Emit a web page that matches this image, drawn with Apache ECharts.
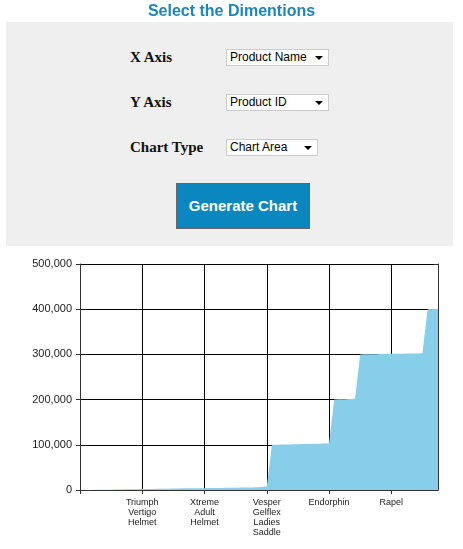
<!DOCTYPE html>
<html>
<head>
<meta charset="utf-8">
<script src="https://cdn.jsdelivr.net/npm/echarts@6/dist/echarts.min.js"></script>
<style>
body { margin: 0; background: #fff; font-family: "Liberation Sans", Arial, sans-serif; }
#main { position: absolute; left: 0; top: 0; width: 463px; height: 549px; }
.title { position: absolute; left: 0; width: 463px; top: 2px; text-align: center; color: #1a86c0; font-weight: bold; font-size: 16px; }
.panel { position: absolute; left: 6px; top: 22px; width: 447px; height: 224px; background: #efefef; }
.lbl { position: absolute; left: 130px; font-family: "Liberation Serif", "Times New Roman", serif; font-weight: bold; font-size: 15px; color: #111; }
.sel { position: absolute; left: 226px; height: 15px; background: #fff; border: 1px solid #ccc; font-size: 12px; line-height: 15px; padding-left: 3px; box-sizing: content-box; color: #000; }
.sel:after { content: ""; position: absolute; right: 5px; top: 6px; border-left: 4px solid transparent; border-right: 4px solid transparent; border-top: 4px solid #000; }
.btn { position: absolute; left: 176px; top: 183px; width: 132px; height: 44px; background: #0987be; border: 1px solid #666; color: #fff; font-weight: bold; font-size: 15px; line-height: 44px; text-align: center; }
</style>
</head>
<body>
<div id="main"></div>
<div class="title">Select the Dimentions</div>
<div class="panel"></div>
<div class="lbl" style="top:49px">X Axis</div>
<div class="sel" style="top:49px;width:98px">Product Name</div>
<div class="lbl" style="top:94px">Y Axis</div>
<div class="sel" style="top:94px;width:98px">Product ID</div>
<div class="lbl" style="top:139px">Chart Type</div>
<div class="sel" style="top:139px;width:87px">Chart Area</div>
<div class="btn">Generate Chart</div>
<script>
var myChart = echarts.init(document.getElementById('main'));

// product names (only every 12th one is shown on the axis)
var productNames = [];
for (var i = 0; i < 70; i++) productNames.push('');
productNames[12] = 'Triumph\nVertigo\nHelmet';
productNames[24] = 'Xtreme\nAdult\nHelmet';
productNames[36] = 'Vesper\nGelflex\nLadies\nSaddle';
productNames[48] = 'Endorphin';
productNames[60] = 'Rapel';

// product IDs
var productIds = [
    0, 100, 200, 300, 400, 600, 800, 1000, 1200, 1400, 1600, 1800,
    2000, 2200, 2400, 2600, 2800, 3000, 3200, 3400, 3600, 3700, 3800, 3900,
    4000, 4200, 4400, 4600, 4800, 5000, 5200, 5400, 5600, 5800, 6200, 6600,
    8000, 100000, 100200, 100500, 100800, 101000, 101300, 101600, 101900, 102200, 102500, 102800,
    103000, 200000, 200500, 201000, 201500, 202000, 300000, 300200, 300400, 300600, 300800, 301000,
    301200, 301400, 301600, 301800, 302000, 302200, 302400, 400000, 400200, 400400
];

var yTicks = [0, 100000, 200000, 300000, 400000, 500000];

var option = {
    animation: false,
    grid: { left: 80, right: 25, top: 264, bottom: 59 },
    xAxis: {
        type: 'category',
        data: productNames,
        boundaryGap: false,
        axisLine: { lineStyle: { color: '#333' } },
        axisTick: { show: true, interval: 11, length: 4, lineStyle: { color: '#333' } },
        splitLine: { show: true, interval: 11, lineStyle: { color: '#000' } },
        axisLabel: { interval: 11, color: '#222', fontSize: 9, lineHeight: 10, fontFamily: 'Liberation Sans' }
    },
    yAxis: [{
        type: 'value',
        min: yTicks[0],
        max: yTicks[yTicks.length - 1],
        interval: 100000,
        axisLine: { show: true, lineStyle: { color: '#333' } },
        axisTick: { show: true, length: 4, lineStyle: { color: '#333' } },
        splitLine: { lineStyle: { color: '#000' } },
        axisLabel: { color: '#222', fontSize: 11, fontFamily: 'Liberation Sans' }
    }, {
        type: 'value',
        min: yTicks[0],
        max: yTicks[yTicks.length - 1],
        interval: 100000,
        position: 'right',
        axisLine: { show: true, lineStyle: { color: '#333' } },
        axisTick: { show: true, inside: true, length: 4, lineStyle: { color: '#333' } },
        splitLine: { show: false },
        axisLabel: { show: false }
    }],
    series: [{
        type: 'line',
        data: productIds,
        symbol: 'none',
        lineStyle: { width: 0 },
        areaStyle: { color: '#87ceeb', opacity: 1 }
    }]
};

myChart.setOption(option);
</script>
</body>
</html>
